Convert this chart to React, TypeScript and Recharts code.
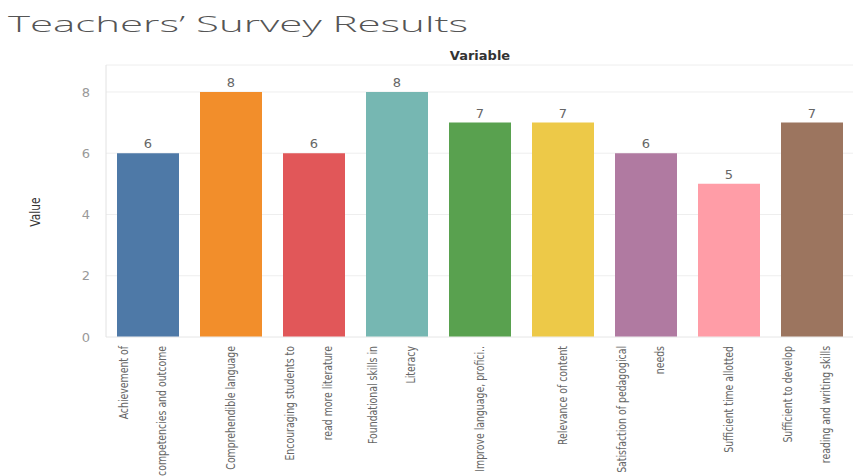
import { BarChart, Bar, XAxis, YAxis, CartesianGrid, Cell, LabelList } from "recharts";

const categories = [
  "Achievement of\ncompetencies and outcome",
  "Comprehendible language",
  "Encouraging students to\nread more literature",
  "Foundational skills in\nLiteracy",
  "Improve language, profici..",
  "Relevance of content",
  "Satisfaction of pedagogical\nneeds",
  "Sufficient time allotted",
  "Sufficient to develop\nreading and writing skills",
];
const values = [6, 8, 6, 8, 7, 7, 6, 5, 7];
const barColors = ["#4e79a7", "#f28e2b", "#e15759", "#76b7b2", "#59a14f", "#edc948", "#b07aa1", "#ff9da7", "#9c755f"];
const yTicks = [0, 2, 4, 6, 8];

const data = categories.map((name, i) => ({ name, value: values[i] }));

const narrow = "'DejaVu Sans Condensed', 'Liberation Sans Narrow', sans-serif";

// rotated two-line category labels, reading bottom to top
function CategoryTick(props: any) {
  const { x, y, payload } = props;
  const lines: string[] = String(payload.value).split("\n");
  const offsets = lines.length === 1 ? [4] : [-20, 18];
  return (
    <g transform={`translate(${x},${y + 9})`}>
      {lines.map((line, i) => (
        <text
          key={i}
          transform={`rotate(-90) translate(0,${offsets[i]}) scale(0.8,1)`}
          textAnchor="end"
          fontFamily={narrow}
          fontSize={13}
          fill="#666"
        >
          {line}
        </text>
      ))}
    </g>
  );
}

export default function App() {
  return (
    <div style={{ position: "absolute", left: 0, top: 0, width: 859, height: 476, background: "#fff" }}>
      <div style={{ position: "absolute", left: 0, top: 0 }}>
        <BarChart width={859} height={476} data={data} margin={{ top: 65, right: 6, left: 0, bottom: 0 }}>
          <CartesianGrid vertical={false} stroke="#eeeeee" />
          <XAxis
            dataKey="name"
            interval={0}
            height={139}
            tickLine={false}
            tickSize={0}
            tickMargin={0}
            axisLine={{ stroke: "#eeeeee" }}
            tick={<CategoryTick />}
          />
          <YAxis
            width={106}
            domain={[0, 8.88]}
            ticks={yTicks}
            tickLine={false}
            axisLine={{ stroke: "#e2e2e2" }}
            tickMargin={10}
            tick={{ fontFamily: "'DejaVu Sans', sans-serif", fontSize: 13, fill: "#999" }}
          />
          <Bar dataKey="value" barSize={62} isAnimationActive={false}>
            {data.map((d, i) => (
              <Cell key={d.name} fill={barColors[i]} />
            ))}
            <LabelList dataKey="value" position="top" offset={5} fontFamily="'DejaVu Sans', sans-serif" fontSize={13} fill="#666" />
          </Bar>
        </BarChart>
      </div>
      <svg width={859} height={476} style={{ position: "absolute", left: 0, top: 0, pointerEvents: "none" }}>
        <text
          x={8}
          y={32}
          fontFamily="'Open Sans', 'DejaVu Sans', sans-serif"
          fontWeight={300}
          fontSize={22}
          fill="#555"
          textLength={460}
          lengthAdjust="spacingAndGlyphs"
        >
          Teachers’ Survey Results
        </text>
        <text x={480} y={60} textAnchor="middle" fontFamily="'DejaVu Sans', sans-serif" fontWeight="bold" fontSize={13} fill="#333">
          Variable
        </text>
        <text
          transform="translate(40,212) rotate(-90) scale(0.85,1)"
          textAnchor="middle"
          fontFamily={narrow}
          fontSize={14}
          fill="#333"
        >
          Value
        </text>
      </svg>
    </div>
  );
}
